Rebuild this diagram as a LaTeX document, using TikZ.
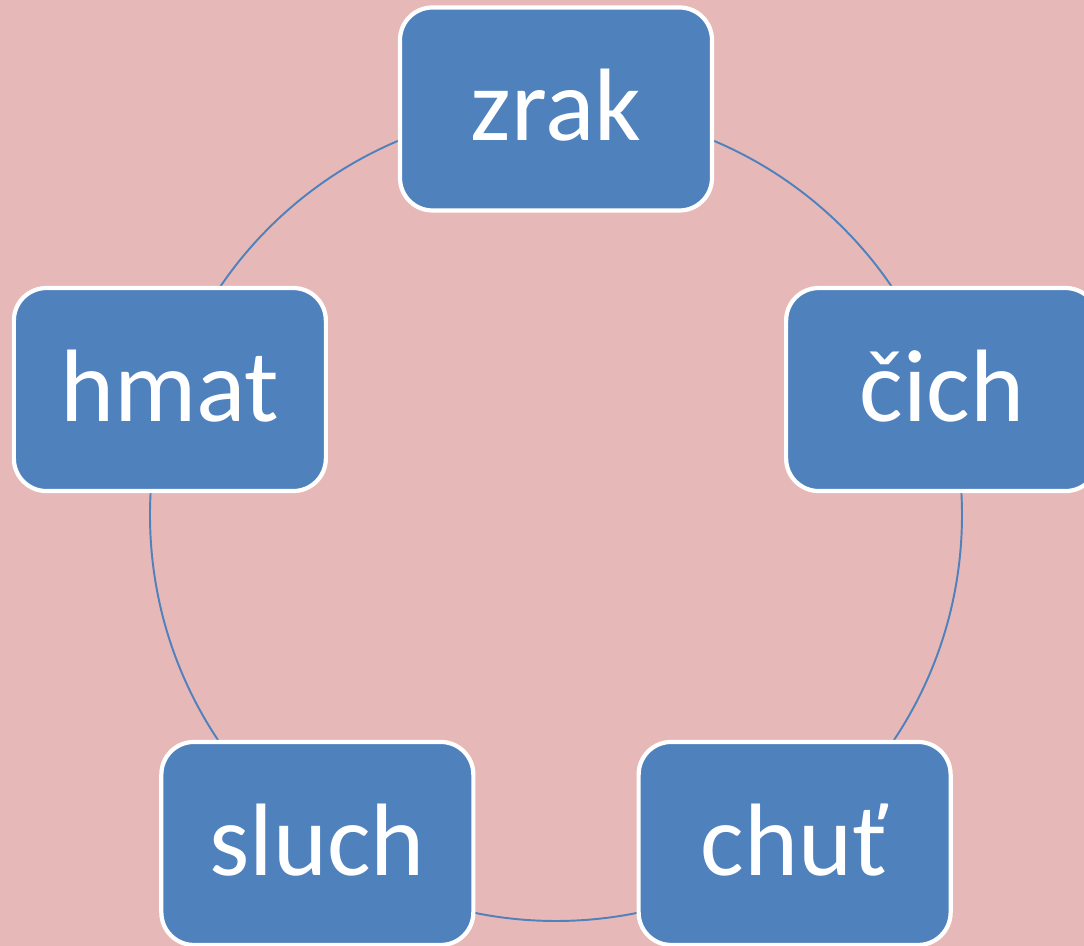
\documentclass[tikz,border=0pt]{standalone}
\usepackage{fontspec}
\setmainfont{Carlito}
\definecolor{bgPink}{HTML}{E6B8B7}
\definecolor{boxBlue}{HTML}{4F81BD}
\def\ringR{8.12}
\def\boxW{6.24}
\def\boxH{4.06}
\tikzset{
	sense/.style={draw=white, line width=2.4pt, fill=boxBlue, rounded corners=0.65cm,
		minimum width=\boxW cm, minimum height=\boxH cm, inner sep=0pt, text depth=0.16cm,
		text=white, font=\fontsize{58.6}{70}\selectfont},
	ring/.style={draw=boxBlue, line width=1.1pt}
}

\begin{document}
\begin{tikzpicture}

	%page background
	\fill[bgPink] (-11.12,-8.62) rectangle (10.56,10.30);
	\useasboundingbox (-11.12,-8.62) rectangle (10.56,10.30);

	%ring behind the boxes
	\draw[ring] (0,0) circle (\ringR);

	%the five senses, one every 72 degrees
	\foreach \ang/\nm/\txt in {90/zrak/zrak, 18/cich/čich, -54/chut/chuť, -126/sluch/sluch, 162/hmat/hmat}
		\node[sense] (\nm) at (\ang:\ringR) {\txt};

\end{tikzpicture}
\end{document}
